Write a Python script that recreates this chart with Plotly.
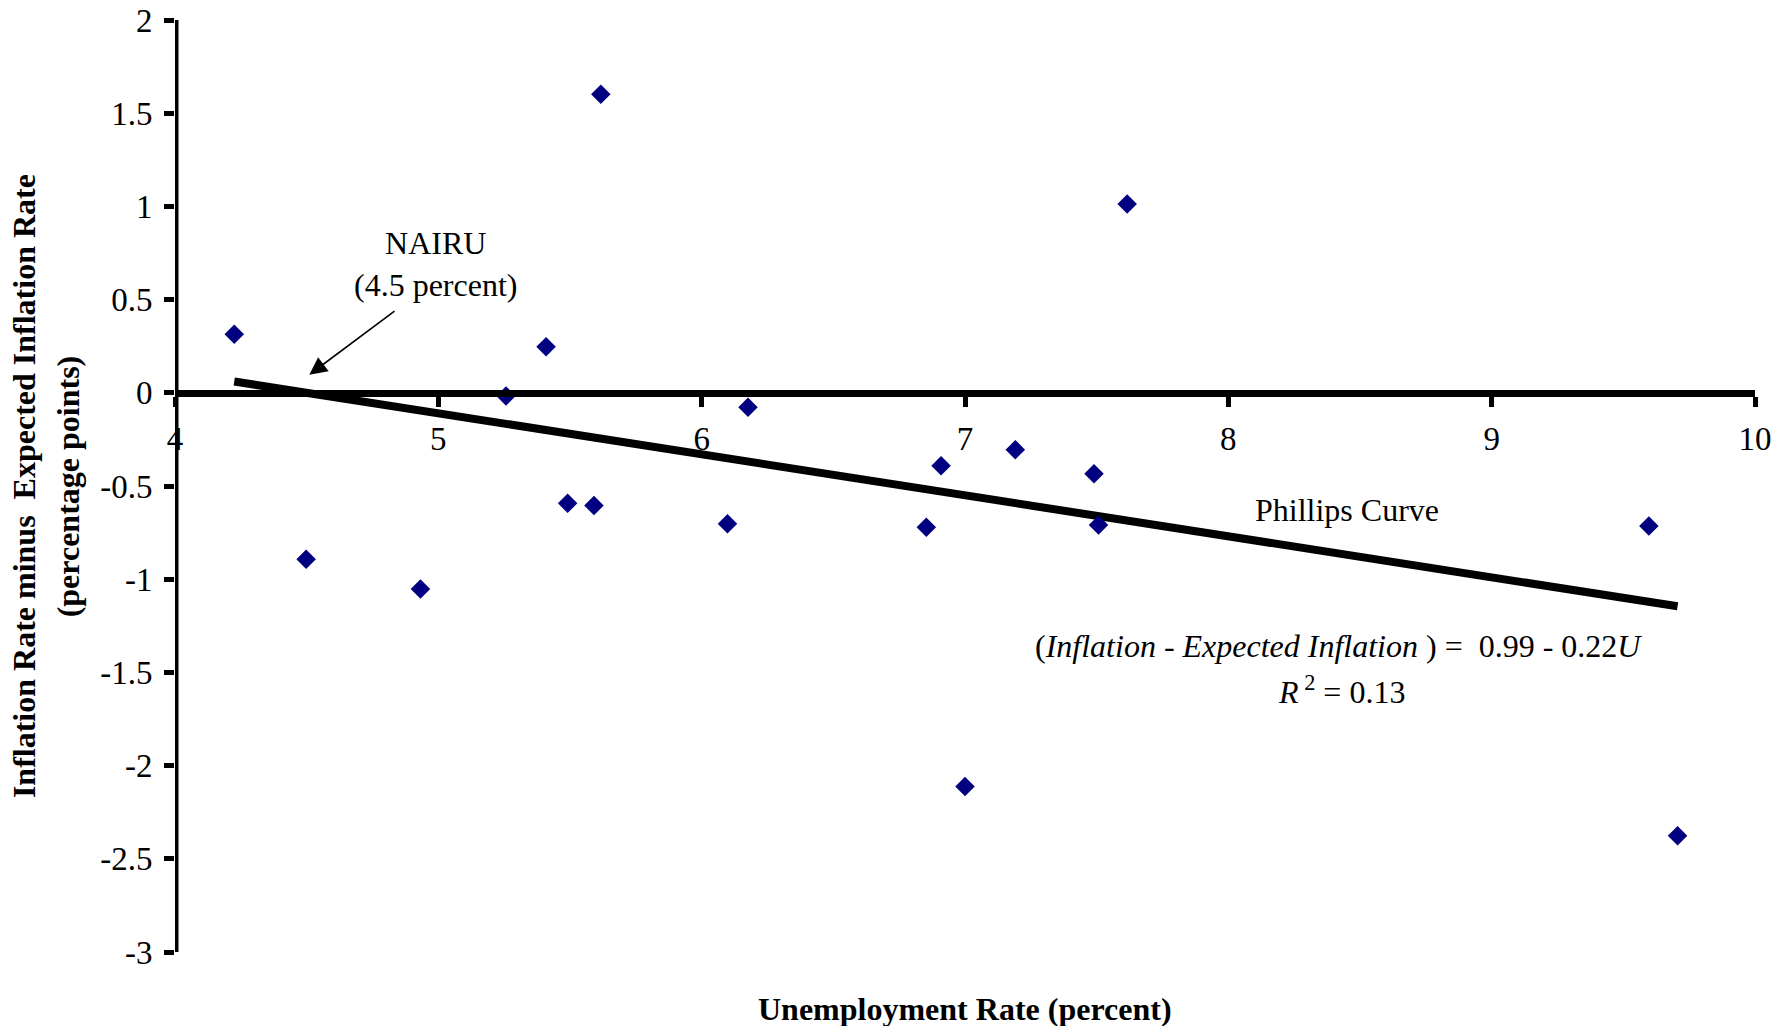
import plotly.graph_objects as go

# Unemployment rate (percent) and inflation minus expected inflation (percentage points)
unemployment = [4.225, 4.498, 4.932, 5.257, 5.409, 5.491, 5.591, 5.617, 6.098, 6.176,
                6.853, 6.909, 7.000, 7.191, 7.490, 7.507, 7.616, 9.597, 9.706]
inflation_gap = [0.314, -0.893, -1.053, -0.017, 0.247, -0.593, -0.605, 1.601, -0.703, -0.078,
                 -0.721, -0.391, -2.112, -0.305, -0.434, -0.709, 1.013, -0.715, -2.376]

# Fitted Phillips curve: gap = intercept + slope * U
intercept = 0.99
slope = -0.22
r_squared = 0.13
nairu = 4.5

x_ticks = [4, 5, 6, 7, 8, 9, 10]
y_ticks = [2, 1.5, 1, 0.5, 0, -0.5, -1, -1.5, -2, -2.5, -3]

SERIF = "Liberation Serif, Times New Roman, serif"

fit_x = [min(unemployment), max(unemployment)]
fit_y = [intercept + slope * u for u in fit_x]

fig = go.Figure()

fig.add_trace(go.Scatter(
    x=fit_x, y=fit_y, mode="lines",
    line=dict(color="black", width=8),
    hoverinfo="skip", showlegend=False,
))

fig.add_trace(go.Scatter(
    x=unemployment, y=inflation_gap, mode="markers",
    marker=dict(symbol="diamond", size=15, color="#000080"),
    showlegend=False,
))

fig.update_layout(
    template="none",
    width=1790, height=1026,
    margin=dict(l=175, r=35, t=20, b=74),
    paper_bgcolor="white", plot_bgcolor="white",
    font=dict(family=SERIF, color="black"),
    showlegend=False,
    xaxis=dict(
        range=[4, 10], tickvals=x_ticks, ticktext=[str(v) for v in x_ticks],
        anchor="free", position=0.6, automargin=False,
        showline=True, linecolor="black", linewidth=7,
        ticks="outside", ticklen=10, tickwidth=5, tickcolor="black",
        tickfont=dict(size=33, family=SERIF), ticklabelstandoff=4,
        showgrid=False, zeroline=False,
    ),
    yaxis=dict(
        range=[-3, 2], tickvals=y_ticks, ticktext=[f"{v:g}" for v in y_ticks],
        automargin=False, showline=False,
        ticks="outside", ticklen=10, tickwidth=5, tickcolor="black",
        tickfont=dict(size=33, family=SERIF), ticklabelstandoff=5,
        showgrid=False, zeroline=False,
    ),
)

# Vertical axis line along U = 4
fig.add_shape(
    type="line", xref="x", yref="y", x0=4, x1=4, y0=-3, y1=2,
    line=dict(color="black", width=7), layer="above",
)

# Axis titles
fig.add_annotation(
    text="<b>Unemployment Rate (percent)</b>", xref="paper", yref="paper",
    x=0.5, y=-0.0607, xanchor="center", yanchor="middle", showarrow=False,
    font=dict(size=32, family=SERIF),
)
fig.add_annotation(
    text="<b>Inflation Rate minus\u00a0 Expected Inflation Rate</b>",
    xref="paper", yref="paper", x=-0.0955, y=0.5, xanchor="center", yanchor="middle",
    textangle=-90, showarrow=False, font=dict(size=32, family=SERIF),
)
fig.add_annotation(
    text="<b>(percentage points)</b>",
    xref="paper", yref="paper", x=-0.0675, y=0.5, xanchor="center", yanchor="middle",
    textangle=-90, showarrow=False, font=dict(size=32, family=SERIF),
)

# NAIRU label with arrow to where the fitted line crosses zero
fig.add_annotation(
    text="NAIRU<br>(4.5 percent)", x=4.99, y=0.47, xref="x", yref="y",
    xanchor="center", yanchor="bottom", showarrow=False,
    font=dict(size=32, family=SERIF), align="center",
)
fig.add_annotation(
    x=nairu + 0.01, y=0.097, ax=4.845, ay=0.45, xref="x", yref="y", axref="x", ayref="y",
    text=" ", showarrow=True, arrowhead=2, arrowsize=2.2, arrowwidth=1.6, arrowcolor="black",
)

fig.add_annotation(
    text="Phillips Curve", x=8.452, y=-0.628, xref="x", yref="y",
    showarrow=False, font=dict(size=32, family=SERIF),
)
fig.add_annotation(
    text=f"(<i>Inflation - Expected Inflation</i> ) = \u00a0{intercept:.2f} - {abs(slope):.2f}<i>U</i>",
    x=8.42, y=-1.36, xref="x", yref="y", showarrow=False,
    font=dict(size=32, family=SERIF),
)
fig.add_annotation(
    text=f"<i>R</i><sup> 2</sup> = {r_squared:.2f}",
    x=8.43, y=-1.595, xref="x", yref="y", showarrow=False,
    font=dict(size=32, family=SERIF),
)

fig.write_html("out.html")
